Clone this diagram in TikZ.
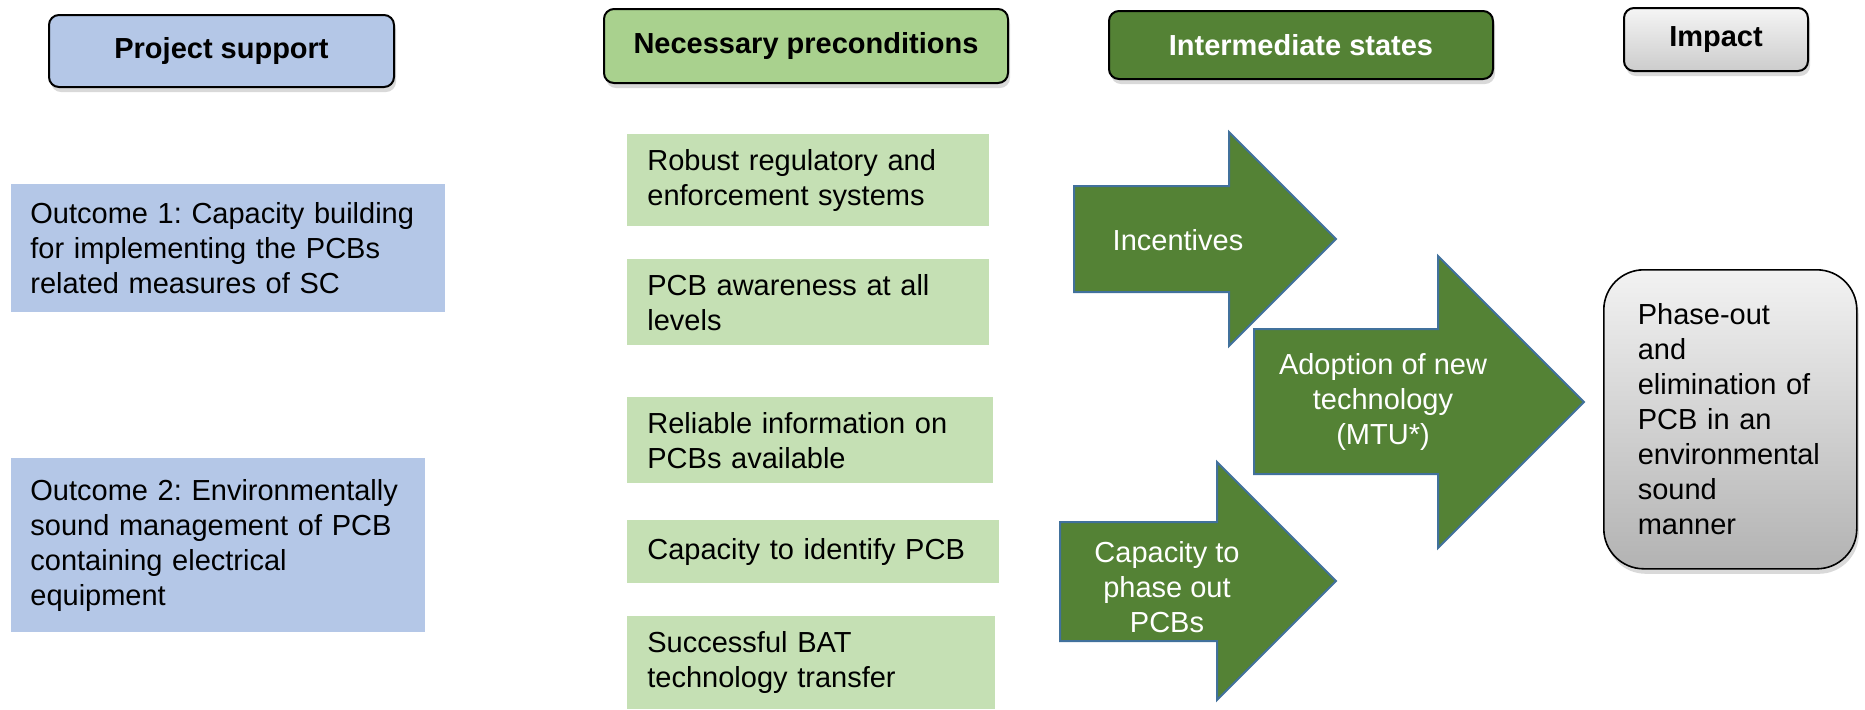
\documentclass[tikz,border=0pt]{standalone}
\usepackage{fontspec}
\setmainfont{Liberation Sans}
\usepackage{tikz}
\usepackage{xcolor}
\usetikzlibrary{shadows}
\frenchspacing
\definecolor{supportblue}{HTML}{B4C7E7}
\definecolor{precondgreen}{HTML}{A9D18E}
\definecolor{lightgreen}{HTML}{C5E0B4}
\definecolor{stategreen}{HTML}{548235}
\definecolor{arrowblue}{HTML}{41719C}
\newcommand{\boxfont}{\fontsize{14.5}{17.5}\selectfont}
\tikzset{
    head-box/.style = {draw=black, line width=1pt, rectangle, rounded corners=5pt, anchor=north west, font=\boxfont\bfseries, drop shadow={shadow xshift=1pt, shadow yshift=-2.5pt, opacity=0.3}},
    plain-box/.style = {rectangle, anchor=north west, inner xsep=10pt, align=left},
    impact-box/.style = {draw=black, line width=0.8pt, rectangle, rounded corners=20pt, anchor=north west, top color=black!5, bottom color=black!30, align=left, inner xsep=17pt, drop shadow={shadow xshift=1pt, shadow yshift=-2.5pt, opacity=0.3}},
    state-arrow/.style = {fill=stategreen, draw=arrowblue, line width=1pt},
    arrow-text/.style = {text=white, align=center},
}

\begin{document}
\begin{tikzpicture}[x=0.5pt, y=-0.5pt, every node/.style={font=\boxfont}]
\useasboundingbox (0,0) rectangle (1865,709);

\node[head-box, fill=supportblue, minimum width=172.5pt, minimum height=36pt] (support-head) at (48,14) {Project support};
\node[head-box, fill=precondgreen, minimum width=202pt, minimum height=37pt] (precond-head) at (603,8) {Necessary preconditions};
\node[head-box, fill=stategreen, text=white, minimum width=192pt, minimum height=34pt] (state-head) at (1108,10) {Intermediate states};
\node[head-box, top color=black!4, bottom color=black!20, minimum width=92pt, minimum height=31.5pt] (impact-head) at (1623,7) {Impact};

\node[plain-box, fill=supportblue, inner xsep=9.5pt, text width=198pt, minimum height=64pt] (outcome-one) at (11,184) {Outcome 1: Capacity building\\for implementing the PCBs\\related measures of SC};
\node[plain-box, fill=supportblue, inner xsep=9.5pt, text width=188pt, minimum height=87pt] (outcome-two) at (11,458) {Outcome 2: Environmentally\\sound management of PCB\\containing electrical\\equipment};

\node[plain-box, fill=lightgreen, text width=161pt, minimum height=46pt] (pre-one) at (627,134) {Robust regulatory and\\enforcement systems};
\node[plain-box, fill=lightgreen, text width=161pt, minimum height=43pt] (pre-two) at (627,259) {PCB awareness at all\\levels};
\node[plain-box, fill=lightgreen, text width=163pt, minimum height=43pt] (pre-three) at (627,397) {Reliable information on\\PCBs available};
\node[plain-box, fill=lightgreen, text width=166pt, minimum height=31.5pt] (pre-four) at (627,520) {Capacity to identify PCB};
\node[plain-box, fill=lightgreen, text width=164pt, minimum height=46.5pt] (pre-five) at (627,616) {Successful BAT\\technology transfer};

\draw[state-arrow] (1074,186) -- (1229,186) -- (1229,132) -- (1336,239) -- (1229,346) -- (1229,292) -- (1074,292) -- cycle;
\node[arrow-text] (incentives) at (1178,240) {Incentives};
\draw[state-arrow] (1060,522) -- (1217,522) -- (1217,462) -- (1336,581) -- (1217,700) -- (1217,641) -- (1060,641) -- cycle;
\node[arrow-text] (phase-capacity) at (1167,587) {Capacity to\\phase out\\PCBs};
\draw[state-arrow] (1254,329) -- (1438,329) -- (1438,256) -- (1584,402) -- (1438,548) -- (1438,474) -- (1254,474) -- cycle;
\node[arrow-text] (adoption) at (1383,402) {Adoption of new\\technology\\(MTU*)};

\node[impact-box, text width=92.5pt, minimum height=149.5pt] (impact) at (1603,269) {Phase-out\\and\\elimination of\\PCB in an\\environmental\\sound\\manner};
\end{tikzpicture}
\end{document}
